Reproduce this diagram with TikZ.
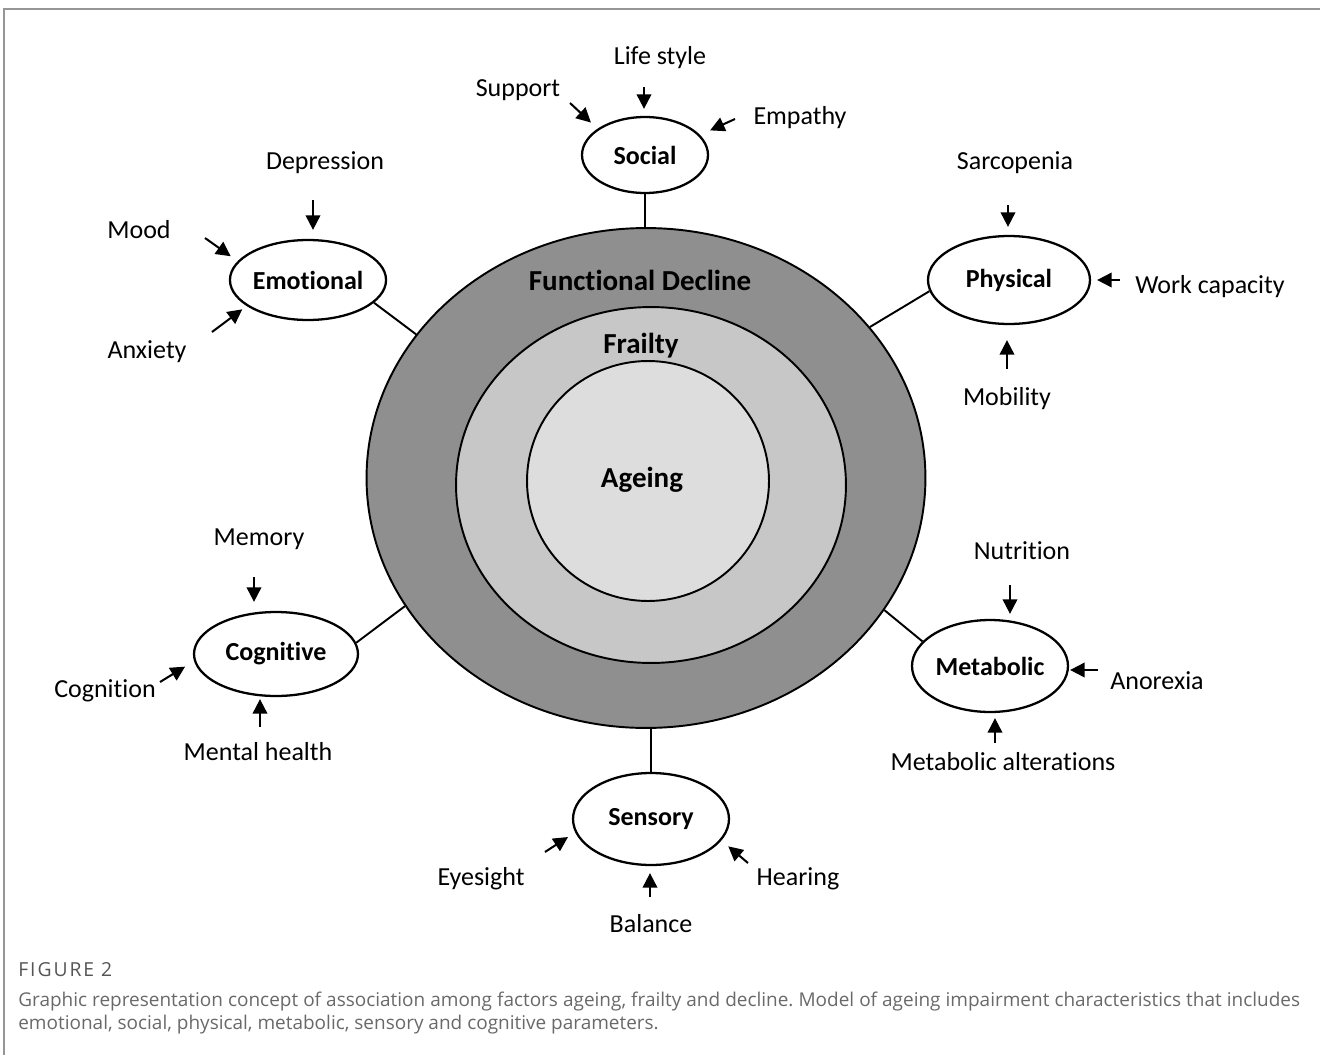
\documentclass[tikz,border=0pt]{standalone}
\usepackage{fontspec}
\setmainfont{Carlito}[Ligatures=NoCommon]
\newfontfamily\capfont{Open Sans}
\usetikzlibrary{arrows.meta,shapes.geometric}
\frenchspacing

\definecolor{declinegray}{RGB}{143,143,143}
\definecolor{frailgray}{RGB}{199,199,199}
\definecolor{ageinggray}{RGB}{221,221,221}
\definecolor{framegray}{RGB}{150,150,150}
\definecolor{capgray}{RGB}{105,105,105}
\definecolor{figgray}{RGB}{85,85,85}

\tikzset{
  ring/.style={draw, ellipse, line width=1.1pt, inner sep=0pt},
  ringtext/.style={anchor=base, inner sep=0pt, font=\bfseries\fontsize{16.5}{19}\selectfont},
  factor/.style={draw, ellipse, fill=white, line width=1.3pt, inner sep=0pt,
    font=\bfseries\fontsize{14.8}{17}\selectfont},
  item/.style={anchor=base, inner sep=0pt, font=\fontsize{14.8}{17}\selectfont},
  inarrow/.style={line width=1.15pt, -{Triangle[length=0.29cm,width=0.29cm]}, shorten >=0.14cm},
  link/.style={line width=1.1pt},
  captext/.style={anchor=base west, inner sep=0pt, text=capgray, font=\capfont\fontsize{10.8}{12}\selectfont},
}

\begin{document}
\begin{tikzpicture}[x=0.02cm,y=-0.02cm]
\useasboundingbox (0,0) rectangle (1320,1055);

% frame
\draw[framegray, line width=0.9pt] (4,1055) -- (4,9) -- (1320,9);

% rings
\node[ring, fill=declinegray, minimum width=11.18cm, minimum height=10cm] (decline) at (646,478) {};
\node[ring, fill=frailgray, minimum width=7.8cm, minimum height=7.12cm] (frailty) at (651,485) {};
\node[ring, fill=ageinggray, minimum width=4.84cm, minimum height=4.8cm] (ageing) at (648,481) {};

\node[ringtext] (declinetext) at (640,290) {Functional Decline};
\node[ringtext] (frailtytext) at (641,353) {Frailty};
\node[ringtext] (ageingtext) at (642,487) {Ageing};

% factors
\node[factor, minimum width=2.52cm, minimum height=1.52cm] (social) at (645,155) {Social};
\node[factor, minimum width=3.04cm, minimum height=1.6cm] (emotional) at (308,280) {Emotional};
\node[factor, minimum width=3.24cm, minimum height=1.76cm] (physical) at (1009,280) {Physical};
\node[factor, minimum width=3.28cm, minimum height=1.68cm] (cognitive) at (276,654) {Cognitive};
\node[factor, minimum width=3.12cm, minimum height=1.84cm] (metabolic) at (990,666) {Metabolic};
\node[factor, minimum width=3.12cm, minimum height=1.84cm] (sensory) at (651,819) {Sensory};

\draw[link] (social.south) -- (social.south |- decline.north);
\draw[link] (emotional.-19) -- (decline.148);
\draw[link] (physical.188) -- (decline.34);
\draw[link] (cognitive.8) -- (decline.208);
\draw[link] (metabolic.160) -- (decline.-29);
\draw[link] (sensory.north) -- (sensory.north |- decline.south);

% social
\node[item] (lifestyle) at (660,64) {Life style};
\node[item] (support) at (518,96) {Support};
\node[item] (empathy) at (800,124) {Empathy};
\coordinate (lstail) at (644,87);
\coordinate (suptail) at (570,103);
\coordinate (emptail) at (735,119);
\draw[inarrow] (lstail) -- (lstail |- social.north);
\draw[inarrow, shorten >=0.18cm] (suptail) -- (social.151);
\draw[inarrow, shorten >=0.22cm] (emptail) -- (social.20);

% emotional
\node[item] (depression) at (325,169) {Depression};
\node[item] (mood) at (139,238) {Mood};
\node[item] (anxiety) at (147,358) {Anxiety};
\coordinate (deptail) at (313,200);
\coordinate (moodtail) at (205,238);
\coordinate (anxtail) at (212,332);
\draw[inarrow, shorten >=0.18cm] (deptail) -- (deptail |- emotional.north);
\draw[inarrow, shorten >=0.17cm] (moodtail) -- (emotional.165);
\draw[inarrow, shorten >=0.11cm] (anxtail) -- (emotional.203);

% physical
\node[item] (sarcopenia) at (1015,169) {Sarcopenia};
\node[item] (work) at (1210,293) {Work capacity};
\node[item] (mobility) at (1007,405) {Mobility};
\coordinate (sarctail) at (1008,205);
\coordinate (worktail) at (1120,280);
\coordinate (mobtail) at (1007,369);
\draw[inarrow, shorten >=0.16cm] (sarctail) -- (sarctail |- physical.north);
\draw[inarrow, shorten >=0.12cm] (worktail) -- (worktail -| physical.east);
\draw[inarrow, shorten >=0.3cm] (mobtail) -- (mobtail |- physical.south);

% cognitive
\node[item] (memory) at (259,545) {Memory};
\node[item] (cognition) at (105,697) {Cognition};
\node[item] (mental) at (258,760) {Mental health};
\coordinate (memtail) at (254,577);
\coordinate (cogtail) at (160,682);
\coordinate (menttail) at (260,727);
\draw[inarrow, shorten >=0.18cm] (memtail) -- (memtail |- cognitive.north);
\draw[inarrow, shorten >=0.21cm] (cogtail) -- (cognitive.185);
\draw[inarrow, shorten >=0.04cm] (menttail) -- (menttail |- cognitive.south);

% metabolic
\node[item] (nutrition) at (1022,559) {Nutrition};
\node[item] (anorexia) at (1157,689) {Anorexia};
\node[item] (alterations) at (1003,770) {Metabolic alterations};
\coordinate (nuttail) at (1010,585);
\coordinate (anotail) at (1098,670);
\coordinate (alttail) at (995,743);
\draw[inarrow, shorten >=0.1cm] (nuttail) -- (nuttail |- metabolic.north);
\draw[inarrow, shorten >=0.02cm] (anotail) -- (anotail -| metabolic.east);
\draw[inarrow, shorten >=0.1cm] (alttail) -- (alttail |- metabolic.south);

% sensory
\node[item] (eyesight) at (481,885) {Eyesight};
\node[item] (hearing) at (798,885) {Hearing};
\node[item] (balance) at (651,932) {Balance};
\coordinate (eyetail) at (545,852);
\coordinate (heartail) at (748,863);
\coordinate (baltail) at (650,897);
\draw[inarrow, shorten >=0.17cm] (eyetail) -- (sensory.190);
\draw[inarrow, shorten >=0.18cm] (heartail) -- (sensory.343);
\draw[inarrow] (baltail) -- (baltail |- sensory.south);

% caption
\node[captext, text=figgray, font=\capfont\fontsize{11}{13}\selectfont\addfontfeature{LetterSpace=10}] (figlabel) at (18,976) {FIGURE 2};
\node[captext] (capline1) at (18,1006) {\makebox[25.64cm][s]{Graphic representation concept of association among factors ageing, frailty and decline. Model of ageing impairment characteristics that includes}};
\node[captext] (capline2) at (18,1029) {emotional, social, physical, metabolic, sensory and cognitive parameters.};
\end{tikzpicture}
\end{document}
